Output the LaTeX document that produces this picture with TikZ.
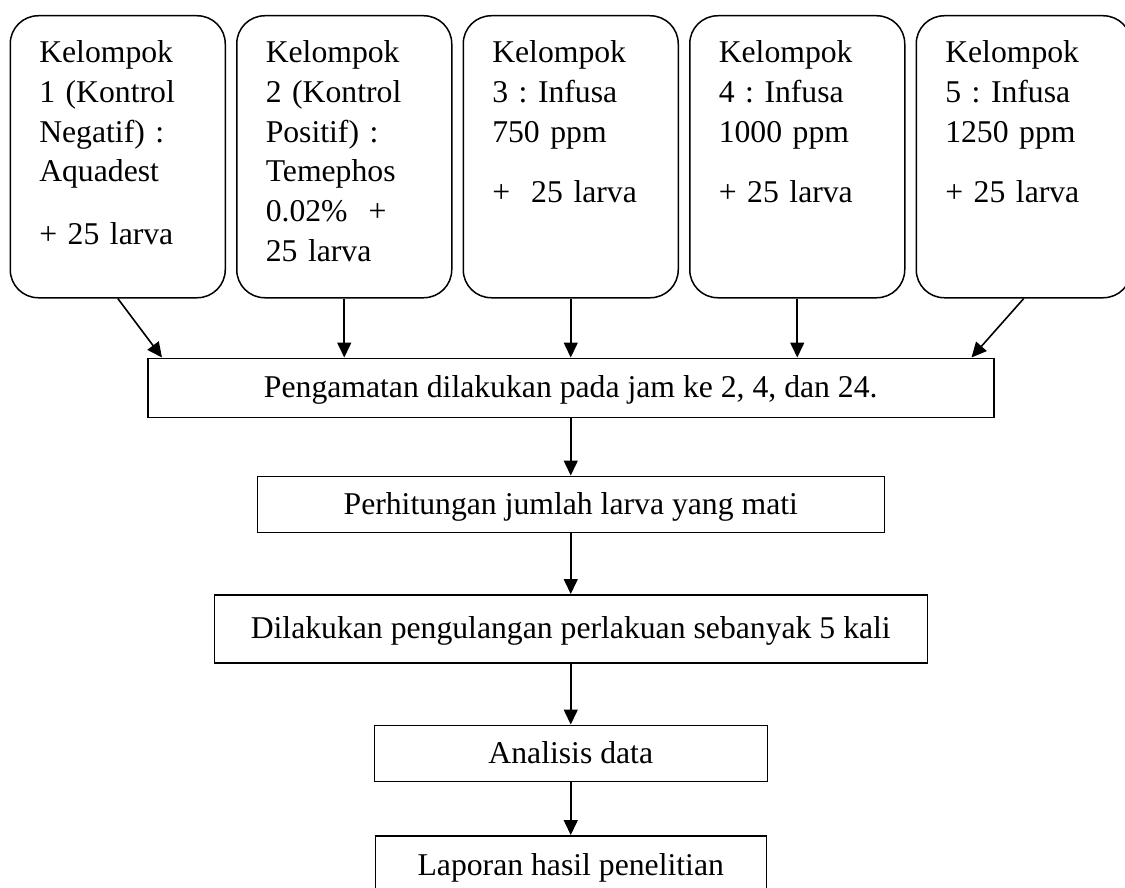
\documentclass[tikz,border=0pt]{standalone}
\usepackage{fontspec}
\setmainfont{Liberation Serif}
\usetikzlibrary{arrows.meta,positioning}
\frenchspacing

\begin{document}
\begin{tikzpicture}[
  x=1pt, y=1pt,
  node distance=60pt and 10pt,
  groupbox/.style={draw, line width=1.5pt, rounded corners=28pt, text width=157pt,
    inner xsep=29pt, inner ysep=0pt, text height=47pt, text depth=235pt,
    align=left, font=\fontsize{31.7}{39.7}\selectfont},
  stepnode/.style={draw, line width=1.5pt, minimum height=56pt, text height=22pt,
    text depth=2pt, align=center, font=\fontsize{31.7}{39.7}\selectfont},
  arrow/.style={-{Triangle[length=15pt,width=14pt]}, line width=1.6pt}
]
\path[use as bounding box, clip] (0,0) rectangle (1125,-888);

\node[groupbox, anchor=north west] (g1) at (9.5,-15)
  {Kelompok\\1 (Kontrol\\Negatif) :\\Aquadest\\[23pt]+ 25 larva};
\node[groupbox, right=of g1] (g2)
  {Kelompok\\2 (Kontrol\\Positif) :\\Temephos\\0.02\%\ \ +\\25 larva};
\node[groupbox, right=of g2] (g3)
  {Kelompok\\3 : Infusa\\750 ppm\\[21pt]+\ \ 25 larva};
\node[groupbox, right=of g3] (g4)
  {Kelompok\\4 : Infusa\\1000 ppm\\[21pt]+ 25 larva};
\node[groupbox, right=of g4] (g5)
  {Kelompok\\5 : Infusa\\1250 ppm\\[21pt]+ 25 larva};

\node[stepnode, minimum width=846pt, minimum height=59pt, below=59pt of g3] (observe)
  {Pengamatan dilakukan pada jam ke 2, 4, dan 24.};
\node[stepnode, minimum width=627pt, below=57.5pt of observe] (count)
  {Perhitungan jumlah larva yang mati};
\node[stepnode, minimum width=713pt, minimum height=68pt, below=61pt of count] (repeat)
  {Dilakukan pengulangan perlakuan sebanyak 5 kali};
\node[stepnode, minimum width=393pt, below=61pt of repeat] (analysis)
  {Analisis data};
\node[stepnode, minimum width=391pt, minimum height=60pt, below=53pt of analysis] (report)
  {Laporan hasil penelitian};

\draw[arrow] (g1.south) -- ([xshift=15pt]observe.north west);
\draw[arrow] (g2.south) -- (g2.south |- observe.north);
\draw[arrow] (g3.south) -- (observe.north);
\draw[arrow] (g4.south) -- (g4.south |- observe.north);
\draw[arrow] (g5.south) -- ([xshift=-23pt]observe.north east);
\draw[arrow] (observe) -- (count);
\draw[arrow] (count) -- (repeat);
\draw[arrow] (repeat) -- (analysis);
\draw[arrow] (analysis) -- (report);
\end{tikzpicture}
\end{document}
